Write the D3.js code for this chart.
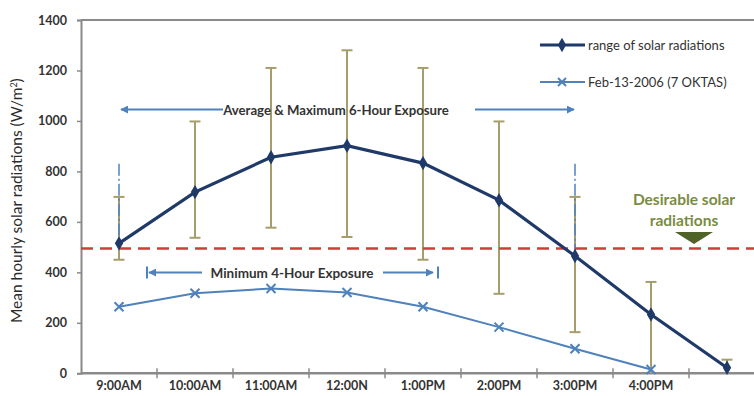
<!DOCTYPE html>
<html><head><meta charset="utf-8">
<script src="https://cdn.jsdelivr.net/npm/d3@7"></script>
<style>
body{margin:0;background:#fff;}
svg{display:block;font-family:Lato,"Open Sans",sans-serif;}
</style></head>
<body>
<svg id="c" width="754" height="396"></svg>
<script>
const categories = ["9:00AM","10:00AM","11:00AM","12:00N","1:00PM","2:00PM","3:00PM","4:00PM","5:00PM"];
const tickLabels = ["9:00AM","10:00AM","11:00AM","12:00N","1:00PM","2:00PM","3:00PM","4:00PM",""];
const rangeMean = [515, 718, 856, 902, 833, 686, 465, 233, 22];
const rangeMax  = [699, 998, 1210, 1280, 1210, 998, 699, 362, 54];
const rangeMin  = [450, 537, 577, 540, 450, 315, 163, 0, 0];
const feb13     = [264, 317, 336, 320, 264, 183, 97, 15, null];
const yTicks = [0,200,400,600,800,1000,1200,1400];
const desirable = 495;

const svg = d3.select("#c");
const L = 81, B = 373.3, T = 20, band = 76;
const x = d3.scaleBand().domain(categories).range([L, L + band*categories.length]).padding(0);
const xc = c => x(c) + x.bandwidth()/2;
const y = d3.scaleLinear().domain([0,1400]).range([B, T]);
const axisCol = "#8a8a8a", txtCol = "#333";
const dark = "#1f3a68", light = "#4f81bd", olive = "#a59e6c", red = "#c9403a";

// frame top line
svg.append("line").attr("x1",L).attr("x2",754).attr("y1",T).attr("y2",T)
  .attr("stroke",axisCol).attr("stroke-width",2);

// y axis
const ya = svg.append("g").attr("transform",`translate(${L},0)`)
  .call(d3.axisLeft(y).tickValues(yTicks).tickSize(4).tickPadding(10).tickFormat(d3.format("d")));
ya.select(".domain").attr("stroke",axisCol).attr("stroke-width",2);
ya.selectAll(".tick line").attr("stroke",axisCol).attr("stroke-width",1.5);
ya.selectAll("text").attr("fill",txtCol).attr("font-size",12.5).attr("font-weight","bold")
  .attr("font-family","Lato, sans-serif");

// x axis
const xa = svg.append("g").attr("transform",`translate(0,${B})`)
  .call(d3.axisBottom(x).tickSize(0).tickPadding(8).tickFormat((d,i)=>tickLabels[i]));
xa.select(".domain").remove();
xa.selectAll("text").attr("fill",txtCol).attr("font-size",12.5).attr("font-weight","bold")
  .attr("font-family","Lato, sans-serif").attr("dy","0.71em");
svg.append("line").attr("x1",L).attr("x2",754).attr("y1",B).attr("y2",B)
  .attr("stroke",axisCol).attr("stroke-width",2.5);
svg.append("g").selectAll("line").data(categories.slice(1)).join("line")
  .attr("x1",d=>x(d)).attr("x2",d=>x(d)).attr("y1",B-5).attr("y2",B+5)
  .attr("stroke",axisCol).attr("stroke-width",1.5);

// y title
svg.append("text").attr("transform",`translate(22,${(T+B)/2+4}) rotate(-90)`)
  .attr("text-anchor","middle").attr("font-size",15.5).attr("fill","#2b2b2b")
  .attr("font-family","Lato, sans-serif")
  .text("Mean hourly solar radiations (W/m")
  .append("tspan").attr("baseline-shift","super").attr("font-size",9).text("2")
  .select(function(){return this.parentNode;}).append("tspan").text(")");

// error bars
const eb = svg.append("g");
categories.forEach((c,i)=>{
  const cx = xc(c);
  eb.append("line").attr("x1",cx).attr("x2",cx).attr("y1",y(rangeMax[i])).attr("y2",y(rangeMin[i]))
    .attr("stroke",olive).attr("stroke-width",2);
  [rangeMax[i], rangeMin[i]].forEach(v=>{
    if (v<=0) return;
    eb.append("line").attr("x1",cx-5.5).attr("x2",cx+5.5).attr("y1",y(v)).attr("y2",y(v))
      .attr("stroke",olive).attr("stroke-width",2);
  });
});

// dash-dot blue verticals at 9:00AM and 3:00PM
[0,6].forEach(i=>{
  svg.append("line").attr("x1",xc(categories[i])).attr("x2",xc(categories[i]))
    .attr("y1",y(830)).attr("y2",y(rangeMean[i]))
    .attr("stroke",light).attr("stroke-width",1.5).attr("stroke-dasharray","12,3,2,3");
});

// red dashed desirable line
svg.append("line").attr("x1",L).attr("x2",754).attr("y1",y(desirable)).attr("y2",y(desirable))
  .attr("stroke",red).attr("stroke-width",2.5).attr("stroke-dasharray","12,7");

// light series
const lineGen = d3.line().defined(d=>d.v!=null).x(d=>xc(d.c)).y(d=>y(d.v));
const febData = categories.map((c,i)=>({c, v: feb13[i]}));
svg.append("path").datum(febData).attr("d",lineGen).attr("fill","none")
  .attr("stroke",light).attr("stroke-width",2);
const xMark = (g, cx, cy, s, col) => {
  g.append("path").attr("d",`M${cx-s},${cy-s}L${cx+s},${cy+s}M${cx-s},${cy+s}L${cx+s},${cy-s}`)
    .attr("stroke",col).attr("stroke-width",2).attr("fill","none");
};
febData.filter(d=>d.v!=null).forEach(d=>xMark(svg, xc(d.c), y(d.v), 4.5, light));

// dark series
const meanData = categories.map((c,i)=>({c, v: rangeMean[i]}));
svg.append("path").datum(meanData).attr("d",lineGen).attr("fill","none")
  .attr("stroke",dark).attr("stroke-width",3.2);
const diamond = d3.symbol().type(d3.symbolDiamond).size(60);
svg.append("g").selectAll("path").data(meanData).join("path")
  .attr("d",diamond).attr("transform",d=>`translate(${xc(d.c)},${y(d.v)})`).attr("fill",dark);

// arrow markers
const defs = svg.append("defs");
defs.append("marker").attr("id","ah").attr("viewBox","0 0 10 10").attr("refX",9).attr("refY",5)
  .attr("markerWidth",4).attr("markerHeight",4).attr("orient","auto-start-reverse")
  .append("path").attr("d","M0,0L10,5L0,10Z").attr("fill",light);

// Average & Maximum 6-Hour Exposure
const ay = 109.5;
svg.append("line").attr("x1",223).attr("x2",121).attr("y1",ay).attr("y2",ay)
  .attr("stroke",light).attr("stroke-width",2).attr("marker-end","url(#ah)");
svg.append("line").attr("x1",475).attr("x2",574).attr("y1",ay).attr("y2",ay)
  .attr("stroke",light).attr("stroke-width",2).attr("marker-end","url(#ah)");
svg.append("text").attr("x",336).attr("y",ay+5).attr("text-anchor","middle")
  .attr("font-size",13.2).attr("font-weight","bold").attr("fill","#333")
  .text("Average & Maximum 6-Hour Exposure");

// Minimum 4-Hour Exposure
const my = 272.5;
svg.append("line").attr("x1",202).attr("x2",149).attr("y1",my).attr("y2",my)
  .attr("stroke",light).attr("stroke-width",2).attr("marker-end","url(#ah)");
svg.append("line").attr("x1",383).attr("x2",433).attr("y1",my).attr("y2",my)
  .attr("stroke",light).attr("stroke-width",2).attr("marker-end","url(#ah)");
[147,438].forEach(px=>svg.append("line").attr("x1",px).attr("x2",px).attr("y1",my-6).attr("y2",my+6)
  .attr("stroke",light).attr("stroke-width",2));
svg.append("text").attr("x",292).attr("y",my+5).attr("text-anchor","middle")
  .attr("font-size",13.5).attr("font-weight","bold").attr("fill","#333")
  .text("Minimum 4-Hour Exposure");

// Desirable solar radiations
const dt = svg.append("text").attr("text-anchor","middle").attr("font-size",15.5)
  .attr("font-weight","bold").attr("fill","#7a8c45");
dt.append("tspan").attr("x",684).attr("y",205).text("Desirable solar");
dt.append("tspan").attr("x",684).attr("y",226).text("radiations");
svg.append("path").attr("d","M675,232L713,232L694,244Z").attr("fill","#4f6228");

// legend
const lg = svg.append("g");
lg.append("line").attr("x1",540).attr("x2",585).attr("y1",45).attr("y2",45)
  .attr("stroke",dark).attr("stroke-width",3.2);
lg.append("path").attr("d",diamond).attr("transform","translate(562,45)").attr("fill",dark);
lg.append("text").attr("x",588).attr("y",49.5).attr("font-size",13).attr("fill","#333").text("range of solar radiations");
lg.append("line").attr("x1",540).attr("x2",585).attr("y1",82).attr("y2",82)
  .attr("stroke",light).attr("stroke-width",2);
xMark(lg, 562, 82, 4, light);
lg.append("text").attr("x",588).attr("y",86.5).attr("font-size",13).attr("fill","#333").text("Feb-13-2006 (7 OKTAS)");
</script>
</body></html>
